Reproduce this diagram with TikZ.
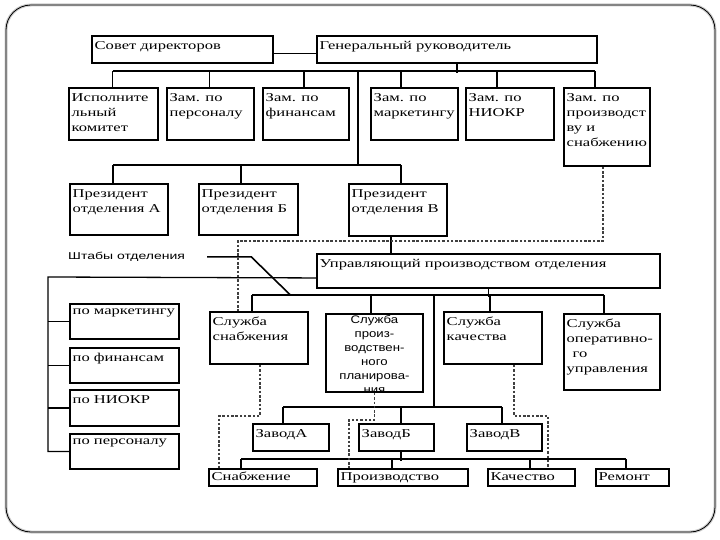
\documentclass[tikz,border=0pt]{standalone}
\usepackage{fontspec}
\setmainfont{Liberation Serif}[FakeStretch=1.38]
\newfontfamily\sansw{Liberation Sans}[FakeStretch=1.2]
\newfontfamily\shtabfont{Liberation Sans}[FakeStretch=1.4]
\newcommand\bx[6]{%
  \node[box, minimum width={(#4-#2)*1pt}, minimum height={(#5-#3)*1pt}] (#1) at (#2,#3) {};
  \node[lbl] (#1t) at ([xshift=3.5pt,yshift=-6pt]#1.north west) {#6};}
\newcommand\bxs[6]{%
  \node[box, minimum width={(#4-#2)*1pt}, minimum height={(#5-#3)*1pt}] (#1) at (#2,#3) {};
  \node[lbl] (#1t) at ([xshift=3.5pt,yshift=-4pt]#1.north west) {#6};}
\begin{document}
\begin{tikzpicture}[x=1pt,y=-1pt,
  box/.style={draw, line width=1.9pt, inner sep=0pt, anchor=north west},
  lbl/.style={inner sep=0pt, anchor=north west, align=left, font=\fontsize{12}{15}\selectfont},
  ln/.style={line width=1.6pt},
  dl/.style={line width=1.2pt, dash pattern=on 2.5pt off 1.8pt, black!75}]
\useasboundingbox (0,0) rectangle (720,540);
% frame
\draw[black!20, line width=3pt, rounded corners=25pt] (6,5) rectangle (715,532);
\draw[line width=0.8pt, rounded corners=25pt] (6,5) rectangle (715,532);
% top
\bx{sovet}{91}{35}{272}{62}{Совет директоров}
\bx{gen}{316}{35}{596}{62}{Генеральный руководитель}
\draw[ln] ([yshift=-4pt]sovet.east) -- ([yshift=-4pt]gen.west);
% level 2
\bx{isp}{68}{87}{157}{139}{Исполните\\льный\\комитет}
\bx{zpers}{166}{87}{253}{139}{Зам. по\\персоналу}
\bx{zfin}{262}{87}{348}{139}{Зам. по\\финансам}
\bx{zmark}{370}{87}{457}{139}{Зам. по\\маркетингу}
\bx{zniokr}{465}{87}{553}{139}{Зам. по\\НИОКР}
\bx{zproiz}{563}{87}{649}{165}{Зам. по\\производст\\ву и\\снабжению}
\draw[ln] (gen.south) -- ++(0,9) coordinate (b1);
\draw[ln] (112.5,71) -- (595,71);
\draw[ln] ([xshift=44.5pt]isp.north west) -- ++(0,-16);
\draw[ln] ([xshift=43.5pt]zpers.north west) -- ++(0,-16);
\draw[ln] ([xshift=42pt]zfin.north west) -- ++(0,-16);
\draw[ln] ([xshift=31pt]zmark.north west) -- ++(0,-16);
\draw[ln] ([xshift=32pt]zniokr.north west) -- ++(0,-16);
\draw[ln] ([xshift=32pt]zproiz.north west) -- ++(0,-16);
% presidents
\bx{prA}{69}{183}{167}{234}{Президент\\отделения А}
\bx{prB}{198}{183}{297}{234}{Президент\\отделения Б}
\bx{prV}{348}{183}{446}{235}{Президент\\отделения В}
\draw[ln] (358,71) -- (358,165);
\draw[ln] (113,165) -- (401,165);
\draw[ln] ([xshift=44pt]prA.north west) -- ++(0,-18);
\draw[ln] ([xshift=43pt]prB.north west) -- ++(0,-18);
\draw[ln] ([xshift=53pt]prV.north west) -- ++(0,-18);
% manager
\bx{upr}{316}{253}{659}{287}{Управляющий производством отделения}
\draw[ln] ([xshift=43pt]prV.south west) -- ++(0,18);
% staffs label
\node[inner sep=0pt, anchor=north west, font=\shtabfont\fontsize{10}{12}\selectfont] (shtab) at (68,252) {Штабы отделения};
\draw[ln] ([xshift=22pt]shtab.east) -- ++(44,0) -- ++(39,38);
% left staff boxes
\bx{smark}{69}{303}{178}{338}{по маркетингу}
\bx{sfin}{69}{347}{178}{382}{по финансам}
\bx{sniokr}{69}{389}{178}{425}{по НИОКР}
\bx{spers}{69}{433}{178}{468}{по персоналу}
\coordinate (lb) at (48,277);
\draw[line width=1.3pt] ([yshift=-7pt]upr.west) -- (lb) |- (spers.west);
\draw[line width=1.3pt] (lb |- smark.west) -- (smark.west);
\draw[line width=1.3pt] (lb |- sfin.west) -- (sfin.west);
\draw[line width=1.3pt] (lb |- sniokr.west) -- (sniokr.west);
% services
\bx{slsnab}{209}{311}{307}{363}{Служба\\снабжения}
\node[box, minimum width=97pt, minimum height=78pt] (plan) at (325,313) {};
\node[inner sep=0pt, anchor=north, align=center, font=\sansw\fontsize{11}{14}\selectfont] (plant) at ([yshift=-2pt]plan.north) {Служба\\произ-\\водствен-\\ного\\планирова-\\ния};
\bx{slkach}{443}{311}{541}{363}{Служба\\качества}
\bx{oper}{563}{313}{659}{389}{Служба\\оперативно-\\\hspace*{6pt}го\\управления}
\draw[ln] (upr.south) -- ++(0,8);
\draw[ln] (252,295) -- (604,295);
\draw[ln] ([xshift=43pt]slsnab.north west) -- ++(0,-16);
\draw[ln] ([xshift=46pt]plan.north west) -- ++(0,-18);
\draw[ln] ([xshift=47pt]slkach.north west) -- ++(0,-16);
\draw[ln] ([xshift=41pt]oper.north west) -- ++(0,-18);
\draw[ln] (434,295) -- (434,407);
% plants
\bx{zavA}{252}{423}{328}{450}{ЗаводА}
\bx{zavB}{358}{423}{433}{450}{ЗаводБ}
\bx{zavV}{466}{423}{541}{450}{ЗаводВ}
\draw[ln] (283,407) -- (502,407);
\draw[ln] ([xshift=31pt]zavA.north west) -- ++(0,-16);
\draw[ln] ([xshift=43pt]zavB.north west) -- ++(0,-16);
\draw[ln] ([xshift=36pt]zavV.north west) -- ++(0,-16);
% bottom row
\bxs{bsnab}{208}{468}{316}{485}{Снабжение}
\bxs{bprod}{337}{468}{467}{485}{Производство}
\bxs{bkach}{487}{468}{574}{485}{Качество}
\bxs{brem}{595}{468}{668}{485}{Ремонт}
\draw[ln] ([xshift=43pt]zavB.south west) -- ++(0,9);
\draw[ln] (241,459) -- (626,459);
\draw[ln] ([xshift=33pt]bsnab.north west) -- ++(0,-9);
\draw[ln] ([xshift=55pt]bprod.north west) -- ++(0,-9);
\draw[ln] ([xshift=43pt]bkach.north west) -- ++(0,-9);
\draw[ln] ([xshift=31pt]brem.north west) -- ++(0,-9);
% dashed links
\draw[dl] ([xshift=-4pt]zproiz.south) -- ++(0,74) -| ([xshift=29pt]slsnab.north west);
\draw[dl] ([xshift=1pt]slsnab.south) -- ++(0,51) -| ([xshift=11pt]bsnab.north west);
\draw[dl] (plan.south) -- ++(0,27) -| ([xshift=12pt]bprod.north west);
\draw[dl] ([xshift=21pt]slkach.south) -- ++(0,51) -| ([xshift=61pt]bkach.north west);
\end{tikzpicture}
\end{document}
